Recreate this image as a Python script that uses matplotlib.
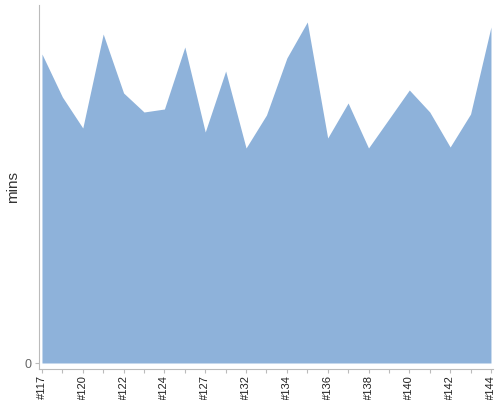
import matplotlib
matplotlib.use('Agg')
import matplotlib.pyplot as plt

# builds (every other one labelled on the axis)
builds = ['#117', '#119', '#120', '#121', '#122', '#123', '#124', '#126',
          '#127', '#131', '#132', '#133', '#134', '#135', '#136', '#137',
          '#138', '#139', '#140', '#141', '#142', '#143', '#144']
mins = [30.9, 26.6, 23.5, 32.9, 27.0, 25.1, 25.4, 31.6, 23.1, 29.2, 21.5,
        24.8, 30.5, 34.1, 22.5, 26.0, 21.5, 24.4, 27.3, 25.1, 21.6, 24.9, 33.6]

plt.rcParams['font.family'] = ['Liberation Sans', 'DejaVu Sans']

fig = plt.figure(figsize=(5, 4), dpi=100)
ax = fig.add_axes([0.077, 0.0775, 0.909, 0.91])

x = list(range(len(builds)))
ax.fill_between(x, mins, 0, color='#8eb2da', linewidth=0)

ax.set_xlim(-0.17, len(builds) - 1 + 0.1)
ax.set_ylim(-0.6, 35.8)

ax.set_xticks(x)
ax.set_xticklabels([b if i % 2 == 0 else '' for i, b in enumerate(builds)],
                   rotation=90, fontsize=8, color='#222222')
ax.set_yticks([0])
ax.set_yticklabels(['0'], fontsize=9, color='#666666')
ax.tick_params(axis='x', length=3, color='#bbbbbb', pad=1.5)
ax.tick_params(axis='y', length=3, color='#bbbbbb', pad=2)

for s in ['top', 'right']:
    ax.spines[s].set_visible(False)
ax.spines['left'].set_color('#bbbbbb')
ax.spines['bottom'].set_color('#bbbbbb')

ax.set_ylabel('mins', fontsize=11, color='#333333', labelpad=3)

fig.savefig('out.png')
